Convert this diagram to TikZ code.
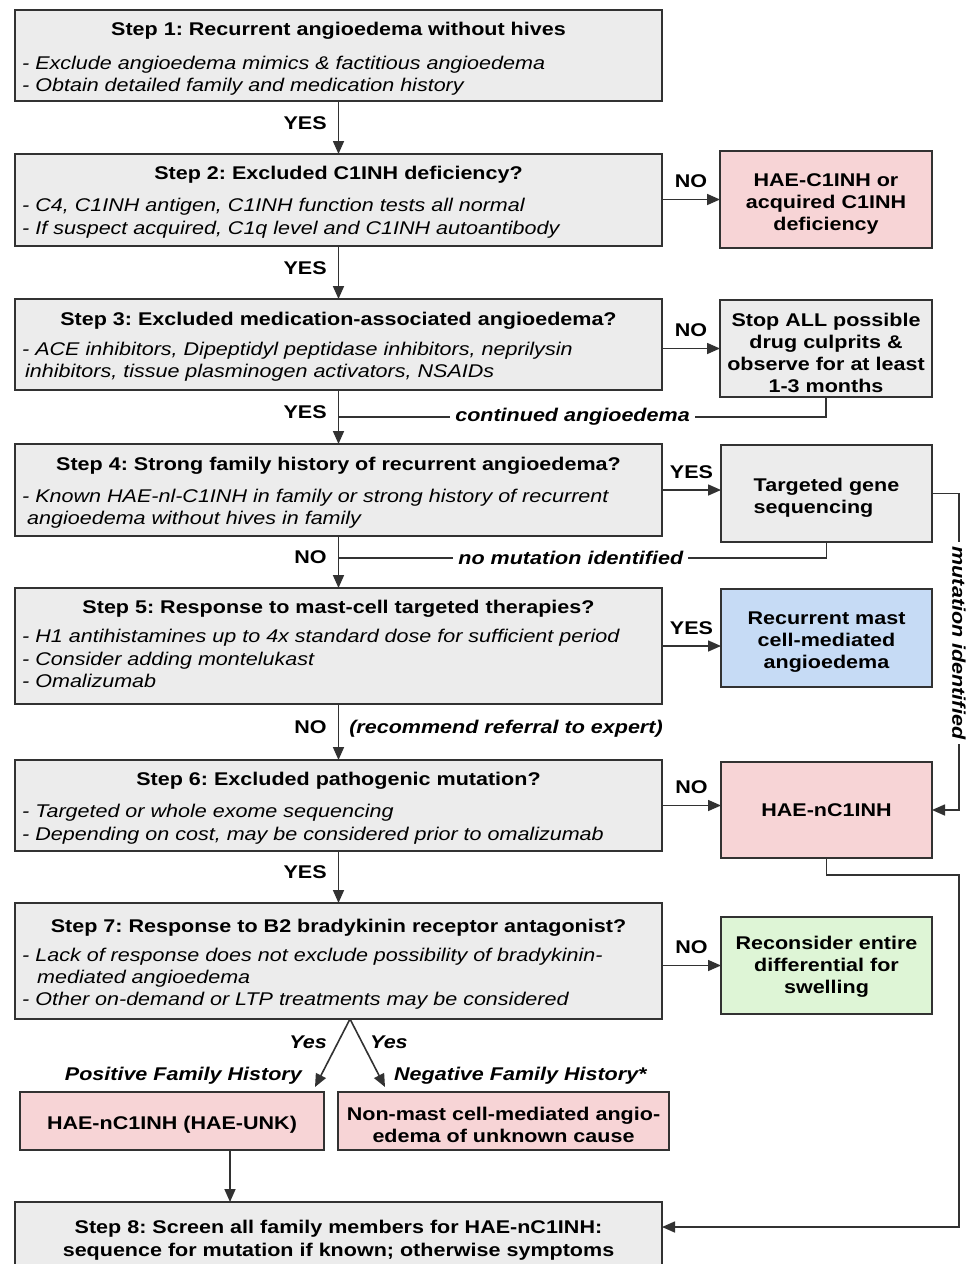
\documentclass[tikz,border=0pt]{standalone}
\usepackage{fontspec}
\setmainfont{Liberation Sans}[FakeStretch=1.17]
\usetikzlibrary{arrows.meta}
\definecolor{graycol}{RGB}{236,236,236}
\definecolor{pinkcol}{RGB}{247,212,214}
\definecolor{bluecol}{RGB}{198,219,245}
\definecolor{greencol}{RGB}{222,245,214}
\definecolor{bordercol}{RGB}{50,50,50}
\newcommand{\fsz}{\fontsize{18.4}{22}\selectfont\frenchspacing}
\begin{document}
\begin{tikzpicture}[x=1pt,y=-1pt,
  box/.style={draw=bordercol, line width=1.8pt, inner sep=0pt, outer sep=0pt, anchor=north west},
  gbox/.style={box, fill=graycol, minimum width=647pt},
  pbox/.style={box, fill=pinkcol},
  bbox/.style={box, fill=bluecol},
  grbox/.style={box, fill=greencol},
  ttl/.style={font=\fsz\bfseries, anchor=base, inner sep=0pt},
  blt/.style={font=\fsz\itshape, anchor=base west, inner sep=0pt},
  rtxt/.style={font=\fsz\bfseries, align=center, inner sep=0pt},
  lbl/.style={font=\fsz\bfseries, anchor=base, inner sep=0pt},
  vlbl/.style={font=\fsz\bfseries, midway, anchor=base east, inner sep=0pt, xshift=-11pt, yshift=-1.5pt},
  hlbl/.style={font=\fsz\bfseries, midway, anchor=base, inner sep=0pt, yshift=12pt},
  cnt/.style={font=\fsz\bfseries\itshape, fill=white, inner xsep=5pt, inner ysep=1pt},
  ital/.style={font=\fsz\bfseries\itshape, inner sep=0pt},
  arr/.style={line width=1.6pt, draw=bordercol, -{Triangle[length=13pt,width=11pt]}},
  ln/.style={line width=1.6pt, draw=bordercol}
]
\useasboundingbox (0,0) rectangle (973,1264);
\fill[white] (0,0) rectangle (973,1264);

% main step boxes
\node[gbox, minimum height=91pt] (s1) at (15,10) {};
\node[gbox, minimum height=92pt] (s2) at (15,154) {};
\node[gbox, minimum height=91pt] (s3) at (15,299) {};
\node[gbox, minimum height=92pt] (s4) at (15,444) {};
\node[gbox, minimum height=116pt] (s5) at (15,588) {};
\node[gbox, minimum height=91pt] (s6) at (15,760) {};
\node[gbox, minimum height=116pt] (s7) at (15,903) {};
\node[gbox, minimum height=90pt] (s8) at (15,1202) {};

% right boxes
\node[pbox, minimum width=212pt, minimum height=97pt] (r2) at (720,151) {};
\node[box, fill=graycol, minimum width=212pt, minimum height=97pt] (r3) at (720,300) {};
\node[box, fill=graycol, minimum width=211pt, minimum height=97pt] (r4) at (721,445) {};
\node[bbox, minimum width=211pt, minimum height=98pt] (r5) at (721,589) {};
\node[pbox, minimum width=211pt, minimum height=96pt] (r6) at (721,762) {};
\node[grbox, minimum width=211pt, minimum height=97pt] (r7) at (721,917) {};
\node[pbox, minimum width=304pt, minimum height=58pt] (u1) at (20,1092) {};
\node[pbox, minimum width=331pt, minimum height=58pt] (u2) at (338,1092) {};

% step texts
\node[ttl] (s1t) at (338.5,35) {Step 1: Recurrent angioedema without hives};
\node[blt] (s1a) at (22,69) {- Exclude angioedema mimics \& factitious angioedema};
\node[blt] (s1b) at (22,91) {- Obtain detailed family and medication history};

\node[ttl] (s2t) at (338.5,179) {Step 2: Excluded C1INH deficiency?};
\node[blt] (s2a) at (22,211) {- C4, C1INH antigen, C1INH function tests all normal};
\node[blt] (s2b) at (22,234) {- If suspect acquired, C1q level and C1INH autoantibody};

\node[ttl] (s3t) at (338.5,325) {Step 3: Excluded medication-associated angioedema?};
\node[blt] (s3a) at (22,355) {- ACE inhibitors, Dipeptidyl peptidase inhibitors, neprilysin};
\node[blt] (s3b) at (25,377) {inhibitors, tissue plasminogen activators, NSAIDs};

\node[ttl] (s4t) at (338.5,470) {Step 4: Strong family history of recurrent angioedema?};
\node[blt] (s4a) at (22,502) {- Known HAE-nl-C1INH in family or strong history of recurrent};
\node[blt] (s4b) at (27,524) {angioedema without hives in family};

\node[ttl] (s5t) at (338.5,613) {Step 5: Response to mast-cell targeted therapies?};
\node[blt] (s5a) at (22,642) {- H1 antihistamines up to 4x standard dose for sufficient period};
\node[blt] (s5b) at (22,665) {- Consider adding montelukast};
\node[blt] (s5c) at (22,687) {- Omalizumab};

\node[ttl] (s6t) at (338.5,785) {Step 6: Excluded pathogenic mutation?};
\node[blt] (s6a) at (22,817) {- Targeted or whole exome sequencing};
\node[blt] (s6b) at (22,840) {- Depending on cost, may be considered prior to omalizumab};

\node[ttl] (s7t) at (338.5,932) {Step 7: Response to B2 bradykinin receptor antagonist?};
\node[blt] (s7a) at (22,961) {- Lack of response does not exclude possibility of bradykinin-};
\node[blt] (s7b) at (37,983) {mediated angioedema};
\node[blt] (s7c) at (22,1005) {- Other on-demand or LTP treatments may be considered};

\node[ttl] (s8t) at (338.5,1233) {Step 8: Screen all family members for HAE-nC1INH:};
\node[ttl] (s8u) at (338.5,1256) {sequence for mutation if known; otherwise symptoms};

% right box texts
\node[rtxt] (r2t) at ([yshift=-4pt]r2.center) {HAE-C1INH or\\acquired C1INH\\deficiency};
\node[rtxt] (r3t) at ([yshift=-4pt]r3.center) {Stop ALL possible\\drug culprits \&\\observe for at least\\1-3 months};
\node[rtxt, align=left] (r4t) at ([yshift=-4pt]r4.center) {Targeted gene\\sequencing};
\node[rtxt] (r5t) at ([yshift=-4pt]r5.center) {Recurrent mast\\cell-mediated\\angioedema};
\node[rtxt] (r6t) at ([yshift=0pt]r6.center) {HAE-nC1INH};
\node[rtxt] (r7t) at ([yshift=-1pt]r7.center) {Reconsider entire\\differential for\\swelling};
\node[rtxt] (u1t) at ([yshift=-4pt]u1.center) {HAE-nC1INH (HAE-UNK)};
\node[rtxt] (u2t) at ([yshift=-4pt]u2.center) {Non-mast cell-mediated angio-\\edema of unknown cause};

% vertical main arrows
\draw[arr] (s1.south) -- (s2.north) node[vlbl] (l12) {YES};
\draw[arr] (s2.south) -- (s3.north) node[vlbl] (l23) {YES};
\draw[arr] (s3.south) -- (s4.north) node[vlbl] (l34) {YES};
\draw[arr] (s4.south) -- (s5.north) node[vlbl] (l45) {NO};
\draw[arr] (s5.south) -- (s6.north) node[vlbl] (l56) {NO}
  node[font=\fsz\bfseries\itshape, midway, anchor=base west, inner sep=0pt, xshift=10pt, yshift=-1.5pt] (l56b) {(recommend referral to expert)};
\draw[arr] (s6.south) -- (s7.north) node[vlbl] (l67) {YES};

% side arrows
\draw[arr] (s2.east |- r2.west) -- (r2.west) node[hlbl] (n2) {NO};
\draw[arr] (s3.east |- r3.west) -- (r3.west) node[hlbl] (n3) {NO};
\draw[arr] (s4.east) -- (s4.east -| r4.west) node[hlbl] (n4) {YES};
\draw[arr] (s5.east) -- (s5.east -| r5.west) node[hlbl] (n5) {YES};
\draw[arr] (s6.east) -- (s6.east -| r6.west) node[hlbl] (n6) {NO};
\draw[arr] (s7.east |- r7.west) -- (r7.west) node[hlbl] (n7) {NO};

% return lines
\coordinate (c3) at (338.5,417);
\draw[ln] (r3.south) |- (c3) node[pos=0.76, cnt] (ca) {continued angioedema};
\coordinate (c4) at (338.5,558);
\draw[ln] (r4.south) |- (c4) node[pos=0.762, cnt] (nm) {no mutation identified};

% mutation identified
\draw[arr] (r4.east) -- ++(27,0) |- (r6.east) node[pos=0.236, cnt, rotate=-90] (mi) {mutation identified};

% HAE-nC1INH to step 8
\coordinate (c8) at (959,1227);
\draw[arr] (r6.south) -- ++(0,17) -| (c8) -- (c8 -| s8.east);

% branch from step 7
\coordinate (br) at ([xshift=11.5pt]s7.south);
\coordinate (pf) at (315,1087);
\coordinate (nf) at (385,1087);
\draw[arr] (br) -- (pf);
\draw[arr] (br) -- (nf);
\node[ital, anchor=base east] (y1) at (327,1048) {Yes};
\node[ital, anchor=base west] (y2) at (370,1048) {Yes};
\node[ital, anchor=base east] (pfh) at (302,1080) {Positive Family History};
\node[ital, anchor=base west] (nfh) at (394,1080) {Negative Family History*};

% HAE-UNK to step 8
\draw[arr] ([xshift=58pt]u1.south) -- ([xshift=58pt]u1.south |- s8.north);
\end{tikzpicture}
\end{document}
